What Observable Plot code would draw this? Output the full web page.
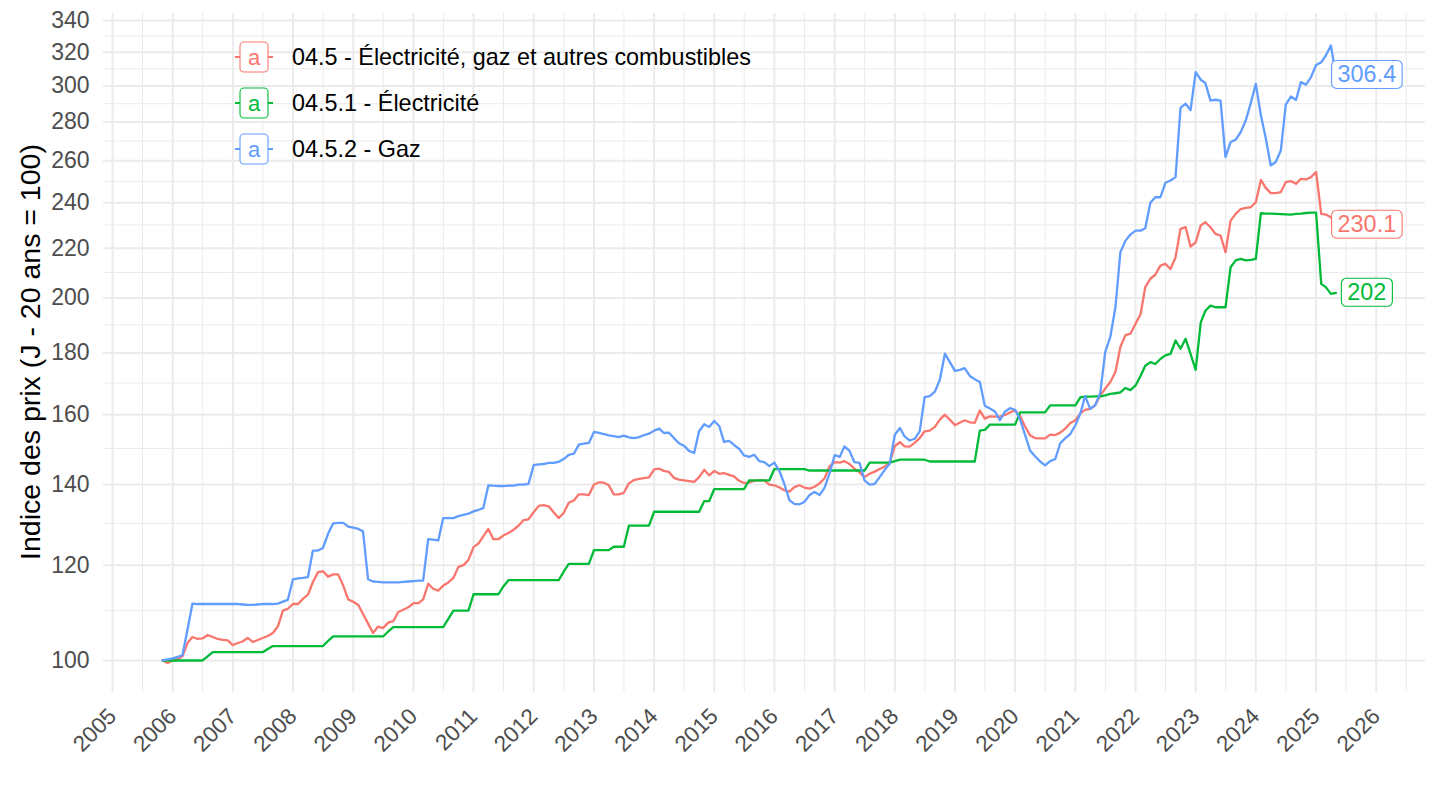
<!DOCTYPE html>
<html>
<head>
<meta charset="utf-8">
<script src="https://cdn.jsdelivr.net/npm/d3@7"></script>
<script src="https://cdn.jsdelivr.net/npm/@observablehq/plot@0.6"></script>
<style>
  html, body { margin: 0; padding: 0; background: #ffffff; }
  body { font-family: "Liberation Sans", Arial, Helvetica, sans-serif; }
  #wrap { position: relative; width: 1440px; height: 810px; overflow: hidden; }
  #legend { position: absolute; left: 235px; top: 34px; }
  .row { display: flex; align-items: center; height: 46px; }
  .row svg { display: block; }
  .row span { margin-left: 19px; font-size: 23.4px; color: #000; white-space: nowrap; }
</style>
</head>
<body>
<div id="wrap"><div id="legend"></div></div>
<script>
// ---- data (monthly, first month = November 2005) ----
const firstMonth = [2005, 10]; // year, month index (0 = January)

const seriesNames = [
  "04.5 - Électricité, gaz et autres combustibles",
  "04.5.1 - Électricité",
  "04.5.2 - Gaz"
];
const seriesColors = ["#F8766D", "#00BA38", "#619CFF"];

// 04.5 - Électricité, gaz et autres combustibles
const total = [
  100.0, 99.5,
  100.0, 100.3, 100.8, 103.4, 104.6, 104.2, 104.3, 105.0, 104.6, 104.2, 104.0, 103.9,
  103.0, 103.4, 103.7, 104.4, 103.6, 104.0, 104.4, 104.8, 105.4, 106.7, 110.0, 110.4,
  111.4, 111.4, 112.5, 113.4, 116.2, 118.4, 118.6, 117.4, 117.9, 117.9, 115.4, 112.4,
  111.9, 111.2, 109.3, 107.3, 105.4, 106.7, 106.4, 107.5, 107.8, 109.7, 110.2, 110.7,
  111.6, 111.6, 112.4, 115.8, 114.7, 114.3, 115.4, 116.1, 117.1, 119.6, 120.0, 121.2,
  124.2, 125.1, 126.8, 128.6, 126.1, 126.1, 127.0, 127.6, 128.4, 129.4, 130.8, 131.0,
  132.8, 134.4, 134.6, 134.3, 132.8, 131.3, 132.6, 135.2, 135.8, 137.4, 137.4, 137.2,
  140.0, 140.6, 140.5, 139.8, 137.4, 137.4, 137.8, 140.3, 141.2, 141.5, 141.7, 141.9,
  144.1, 144.3, 143.7, 143.4, 141.8, 141.3, 141.1, 140.9, 140.7, 142.0, 144.0, 142.5,
  143.7, 142.9, 143.1, 142.6, 142.2, 141.0, 140.4, 140.6, 141.0, 141.1, 141.1, 140.0,
  139.8, 139.2, 138.5, 138.1, 139.3, 139.8, 139.2, 138.9, 139.4, 140.3, 141.7, 145.0,
  146.1, 146.0, 146.4, 145.6, 144.3, 143.3, 142.0, 142.9, 143.5, 144.2, 144.9, 146.0,
  150.7, 151.8, 150.6, 150.5, 151.6, 153.0, 155.0, 155.2, 156.3, 158.5, 160.0, 158.5,
  156.8, 157.6, 158.3, 157.7, 157.5, 161.3, 158.8, 159.5, 159.4, 159.4, 159.9, 160.7,
  161.3, 159.5, 156.5, 153.8, 153.0, 152.9, 152.9, 154.0, 153.9, 154.6, 155.8, 157.5,
  158.3, 160.5, 161.5, 161.8, 162.9, 166.0, 168.2, 170.3, 173.6, 182.1, 186.3, 186.8,
  190.4, 194.0, 204.2, 207.5, 209.1, 212.8, 213.5, 211.4, 216.2, 228.3, 229.0, 220.7,
  222.5, 229.8, 231.2, 229.0, 226.1, 225.4, 218.3, 231.9, 234.9, 237.1, 237.6, 237.9,
  240.2, 250.7, 246.9, 244.4, 244.4, 244.9, 249.6, 250.1, 248.8, 251.2, 250.9, 252.0,
  254.5, 234.9, 234.6, 233.4, 230.1
];

// 04.5.1 - Électricité
const elec = [
  100.0, 100.0,
  100.0, 100.0, 100.0, 100.0, 100.0, 100.0, 100.0, 100.8, 101.6, 101.6, 101.6, 101.6,
  101.6, 101.6, 101.6, 101.6, 101.6, 101.6, 101.6, 102.2, 102.8, 102.8, 102.8, 102.8,
  102.8, 102.8, 102.8, 102.8, 102.8, 102.8, 102.8, 103.8, 104.7, 104.7, 104.7, 104.7,
  104.7, 104.7, 104.7, 104.7, 104.7, 104.7, 104.7, 105.7, 106.6, 106.6, 106.6, 106.6,
  106.6, 106.6, 106.6, 106.6, 106.6, 106.6, 106.6, 108.3, 110.0, 110.0, 110.0, 110.0,
  113.5, 113.5, 113.5, 113.5, 113.5, 113.5, 115.2, 116.6, 116.6, 116.6, 116.6, 116.6,
  116.6, 116.6, 116.6, 116.6, 116.6, 116.6, 118.5, 120.3, 120.3, 120.3, 120.3, 120.3,
  123.5, 123.5, 123.5, 123.5, 124.3, 124.3, 124.3, 129.4, 129.4, 129.4, 129.4, 129.4,
  132.9, 132.9, 132.9, 132.9, 132.9, 132.9, 132.9, 132.9, 132.9, 132.9, 135.6, 135.6,
  138.8, 138.8, 138.8, 138.8, 138.8, 138.8, 138.8, 141.1, 141.1, 141.1, 141.1, 141.1,
  144.2, 144.2, 144.2, 144.2, 144.2, 144.2, 144.2, 143.8, 143.8, 143.8, 143.8, 143.8,
  143.8, 143.8, 143.8, 143.8, 143.8, 143.8, 143.8, 146.0, 146.0, 146.0, 146.0, 146.0,
  146.4, 146.8, 146.8, 146.8, 146.8, 146.8, 146.8, 146.3, 146.3, 146.3, 146.3, 146.3,
  146.3, 146.3, 146.3, 146.3, 146.3, 155.2, 155.4, 157.0, 157.0, 157.0, 157.0, 157.0,
  157.0, 160.7, 160.7, 160.7, 160.7, 160.7, 160.7, 162.9, 162.9, 162.9, 162.9, 162.9,
  162.9, 165.5, 165.6, 165.6, 165.7, 165.7, 166.0, 166.5, 166.7, 167.0, 168.4, 167.7,
  169.2, 172.4, 175.7, 176.9, 176.3, 178.0, 179.2, 179.7, 184.4, 181.5, 185.0, 179.7,
  174.3, 190.9, 195.2, 197.1, 196.5, 196.5, 196.5, 212.1, 214.9, 215.5, 214.9, 215.1,
  215.5, 235.2, 235.0, 235.0, 234.9, 234.8, 234.7, 234.6, 234.9, 235.0, 235.3, 235.5,
  235.5, 205.5, 204.2, 201.6, 202
];

// 04.5.2 - Gaz
const gaz = [
  100.0, 100.2,
  100.4, 100.7, 101.0, 106.1, 111.5, 111.4, 111.4, 111.4, 111.4, 111.4, 111.4, 111.4,
  111.4, 111.4, 111.3, 111.2, 111.2, 111.3, 111.4, 111.4, 111.4, 111.5, 111.9, 112.3,
  116.8, 117.0, 117.1, 117.3, 123.4, 123.4, 124.0, 127.4, 130.0, 130.1, 130.1, 129.2,
  128.9, 128.6, 128.0, 116.8, 116.3, 116.2, 116.1, 116.1, 116.1, 116.1, 116.2, 116.3,
  116.4, 116.5, 116.5, 126.1, 126.0, 125.8, 131.3, 131.3, 131.3, 131.8, 132.1, 132.4,
  133.0, 133.4, 133.8, 139.8, 139.7, 139.6, 139.6, 139.7, 139.7, 140.0, 140.0, 140.2,
  145.3, 145.5, 145.6, 145.9, 145.9, 146.2, 147.0, 148.2, 148.5, 151.1, 151.4, 151.6,
  154.8, 154.5, 154.2, 153.8, 153.6, 153.3, 153.7, 153.2, 153.0, 153.3, 153.9, 154.3,
  155.2, 155.8, 154.5, 154.6, 153.0, 151.5, 150.8, 149.3, 148.7, 155.0, 157.1, 156.3,
  158.1, 156.5, 151.9, 152.2, 151.0, 149.9, 148.0, 147.6, 148.2, 146.4, 146.1, 145.0,
  146.0, 143.6, 140.2, 135.9, 134.9, 134.8, 135.4, 137.2, 138.0, 137.2, 139.2, 143.1,
  148.1, 147.6, 150.6, 149.3, 146.1, 145.9, 141.1, 140.0, 140.2, 142.0, 144.0, 145.7,
  154.0, 156.0, 153.5, 152.3, 152.8, 155.0, 165.5, 165.8, 167.2, 171.0, 179.8, 176.9,
  174.0, 174.3, 174.9, 172.3, 171.2, 170.3, 162.8, 161.9, 161.0, 158.3, 161.0, 162.0,
  161.5, 158.5, 154.0, 149.4, 147.8, 146.3, 145.2, 146.4, 147.0, 151.5, 153.0, 154.2,
  156.8, 160.5, 165.8, 161.8, 162.9, 166.8, 180.4, 185.7, 196.5, 218.3, 223.2, 225.8,
  227.5, 227.5, 228.5, 240.0, 242.5, 242.5, 249.3, 250.4, 252.0, 287.7, 290.0, 286.5,
  308.0, 303.6, 301.6, 291.7, 292.2, 291.7, 261.8, 269.5, 270.7, 274.6, 280.8, 290.2,
  301.2, 283.5, 271.7, 257.7, 259.4, 265.2, 289.5, 294.0, 292.1, 302.2, 300.8, 305.1,
  312.3, 313.9, 318.0, 324.1, 306.4
];

const yTicks = [100, 120, 140, 160, 180, 200, 220, 240, 260, 280, 300, 320, 340];
const yMinorTicks = [110, 130, 150, 170, 190, 210, 230, 250, 270, 290, 310, 330];
const xYears = d3.range(2005, 2027);
const yTitle = "Indice des prix (J - 20 ans = 100)";

// ---- build table ----
const start = new Date(Date.UTC(firstMonth[0], firstMonth[1], 1));
const valueSets = [total, elec, gaz];
const rows = [];
valueSets.forEach((vals, s) => {
  vals.forEach((v, i) => rows.push({date: d3.utcMonth.offset(start, i), value: v, series: seriesNames[s]}));
});
const lastRows = valueSets.map((vals, s) => ({
  date: d3.utcMonth.offset(start, vals.length - 1),
  value: vals[vals.length - 1],
  series: seriesNames[s]
}));

const xDomain = [new Date(Date.UTC(2004, 10, 7)), new Date(Date.UTC(2026, 9, 27))];
const majorDates = xYears.map(y => new Date(Date.UTC(y, 0, 1)));
const minorDates = xYears.map(y => new Date(Date.UTC(y, 6, 2)))
  .filter(d => d >= xDomain[0] && d <= xDomain[1]);

const chart = Plot.plot({
  width: 1440,
  height: 810,
  marginLeft: 103,
  marginRight: 15,
  marginTop: 13,
  marginBottom: 118,
  style: {fontFamily: "Liberation Sans, Arial, Helvetica, sans-serif", background: "#ffffff", overflow: "visible"},
  x: {type: "utc", domain: xDomain},
  y: {type: "log", domain: [94.06, 344.6]},
  color: {domain: seriesNames, range: seriesColors},
  marks: [
    Plot.gridY(yMinorTicks, {stroke: "#ebebeb", strokeOpacity: 1, strokeWidth: 1}),
    Plot.gridX(minorDates, {stroke: "#ebebeb", strokeOpacity: 1, strokeWidth: 1}),
    Plot.gridY(yTicks, {stroke: "#ebebeb", strokeOpacity: 1, strokeWidth: 2}),
    Plot.gridX(majorDates, {stroke: "#ebebeb", strokeOpacity: 1, strokeWidth: 2}),
    Plot.axisY(yTicks, {tickSize: 0, tickPadding: 14, fontSize: 23, fill: "#4d4d4d", label: null, tickFormat: d => String(d)}),
    Plot.axisX(majorDates, {tickSize: 0, tickPadding: 20, tickRotate: -45, fontSize: 22.5, fill: "#4d4d4d", label: null, tickFormat: d3.utcFormat("%Y")}),
    Plot.line(rows, {x: "date", y: "value", stroke: "series", z: "series", strokeWidth: 2.3}),
    Plot.text(lastRows, {x: "date", y: "value", text: d => String(d.value), fill: "series", dx: 31, fontSize: 23.4, textAnchor: "middle"})
  ]
});

document.getElementById("wrap").prepend(chart);

// label boxes behind the end values
const svg = d3.select(chart);
svg.selectAll('g[aria-label="text"] text').each(function () {
  const b = this.getBBox();
  const col = this.getAttribute("fill");
  const r = document.createElementNS("http://www.w3.org/2000/svg", "rect");
  r.setAttribute("x", b.x - 6);
  r.setAttribute("y", b.y - 1);
  r.setAttribute("width", b.width + 12);
  r.setAttribute("height", b.height + 2);
  r.setAttribute("rx", 5);
  r.setAttribute("fill", "#ffffff");
  r.setAttribute("stroke", col);
  r.setAttribute("stroke-width", 1.1);
  const t = this.getAttribute("transform");
  if (t) r.setAttribute("transform", t);
  this.parentNode.insertBefore(r, this);
});

// y axis title
svg.append("text")
  .attr("transform", "translate(30,352) rotate(-90)")
  .attr("text-anchor", "middle")
  .attr("dominant-baseline", "central")
  .attr("font-size", 28.5)
  .attr("fill", "#000")
  .text(yTitle);

// legend (inside the panel, top-left)
const legend = d3.select("#legend");
seriesNames.forEach((name, i) => {
  const row = legend.append("div").attr("class", "row");
  const k = row.append("svg").attr("width", 38).attr("height", 36);
  k.append("line").attr("x1", 0).attr("x2", 38).attr("y1", 18).attr("y2", 18)
    .attr("stroke", seriesColors[i]).attr("stroke-width", 2);
  k.append("rect").attr("x", 5).attr("y", 3).attr("width", 28).attr("height", 30).attr("rx", 4)
    .attr("fill", "#fff").attr("stroke", seriesColors[i]).attr("stroke-width", 1.1);
  k.append("text").attr("x", 19).attr("y", 18).attr("text-anchor", "middle").attr("dominant-baseline", "central")
    .attr("font-size", 22).attr("fill", seriesColors[i]).attr("font-family", "Liberation Sans, Arial, sans-serif").text("a");
  row.append("span").text(name);
});
</script>
</body>
</html>
